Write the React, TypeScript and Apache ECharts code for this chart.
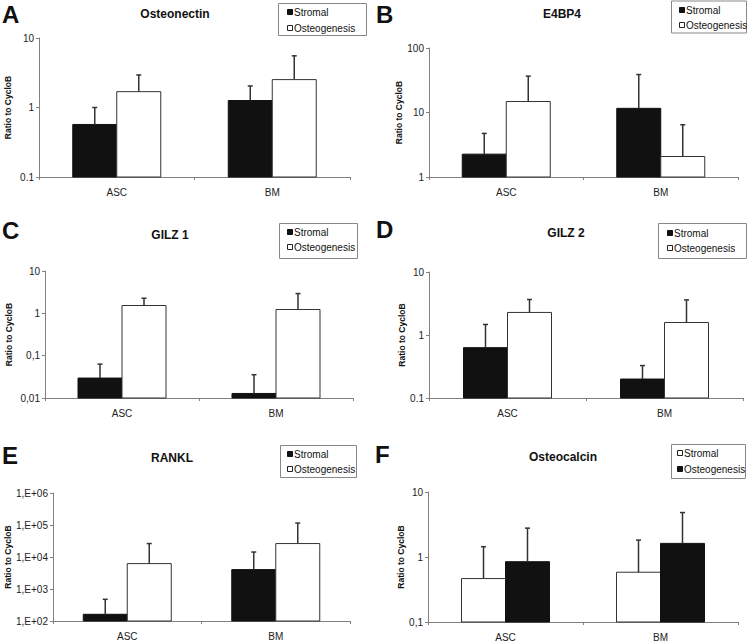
import React, { useEffect, useRef } from 'react';
import * as echarts from 'echarts';

// ---------- data ----------
const categories = ['ASC', 'BM'];

const osteonectinStromal = [0.57, 1.26];
const osteonectinStromalErr = [1.0, 2.04];
const osteonectinOsteo = [1.69, 2.52];
const osteonectinOsteoErr = [2.94, 5.54];

const e4bp4Stromal = [2.26, 11.6];
const e4bp4StromalErr = [4.74, 38.8];
const e4bp4Osteo = [14.8, 2.08];
const e4bp4OsteoErr = [36.6, 6.46];

const gilz1Stromal = [0.0296, 0.0128];
const gilz1StromalErr = [0.063, 0.0355];
const gilz1Osteo = [1.53, 1.23];
const gilz1OsteoErr = [2.28, 2.93];

const gilz2Stromal = [0.63, 0.2];
const gilz2StromalErr = [1.47, 0.327];
const gilz2Osteo = [2.28, 1.58];
const gilz2OsteoErr = [3.66, 3.61];

const ranklStromal = [162, 4040];
const ranklStromalErr = [476, 14300];
const ranklOsteo = [6220, 26300];
const ranklOsteoErr = [26300, 115000];

const osteocalcinStromal = [0.466, 0.583];
const osteocalcinStromalErr = [1.44, 1.82];
const osteocalcinOsteo = [0.847, 1.62];
const osteocalcinOsteoErr = [2.78, 4.83];

const ticksA = ['0.1', '1', '10'];
const ticksB = ['1', '10', '100'];
const ticksC = ['0,01', '0,1', '1', '10'];
const ticksD = ['0.1', '1', '10'];
const ticksE = ['1,E+02', '1,E+03', '1,E+04', '1,E+05', '1,E+06'];
const ticksF = ['0,1', '1', '10'];

const seriesNames = ['Stromal', 'Osteogenesis'];
const yAxisName = 'Ratio to CycloB';

// ---------- layout / style ----------
const FONT = '"Liberation Sans", Arial, sans-serif';
const BAR_W = 44;
const BLACK = '#111111';
const WHITE = '#ffffff';

type Panel = {
  letter: string;
  title: string;
  stromal: number[];
  stromalErr: number[];
  osteo: number[];
  osteoErr: number[];
  ticks: string[];
  minExp: number;
  stromalFill: string;
  osteoFill: string;
  grid: { left: number; top: number; width: number; height: number };
  nameGap: number;
  letterPos: [number, number];
  titlePos: [number, number];
  legendBox: [number, number, number, number];
  legendRows: [number, number];
  legendSq: number;
};

const panels: Panel[] = [
  {
    letter: 'A', title: 'Osteonectin',
    stromal: osteonectinStromal, stromalErr: osteonectinStromalErr,
    osteo: osteonectinOsteo, osteoErr: osteonectinOsteoErr,
    ticks: ticksA, minExp: -1, stromalFill: BLACK, osteoFill: WHITE,
    grid: { left: 39, top: 38, width: 311, height: 139 }, nameGap: 27,
    letterPos: [2, 14], titlePos: [175, 14],
    legendBox: [278, 3, 88, 32], legendRows: [12, 28], legendSq: 287,
  },
  {
    letter: 'B', title: 'E4BP4',
    stromal: e4bp4Stromal, stromalErr: e4bp4StromalErr,
    osteo: e4bp4Osteo, osteoErr: e4bp4OsteoErr,
    ticks: ticksB, minExp: 0, stromalFill: BLACK, osteoFill: WHITE,
    grid: { left: 429, top: 48, width: 309, height: 129 }, nameGap: 26,
    letterPos: [376, 14], titlePos: [562, 14],
    legendBox: [671, 0.5, 75, 32], legendRows: [10, 25], legendSq: 679,
  },
  {
    letter: 'C', title: 'GILZ 1',
    stromal: gilz1Stromal, stromalErr: gilz1StromalErr,
    osteo: gilz1Osteo, osteoErr: gilz1OsteoErr,
    ticks: ticksC, minExp: -2, stromalFill: BLACK, osteoFill: WHITE,
    grid: { left: 45, top: 271, width: 308, height: 127 }, nameGap: 32,
    letterPos: [2, 230], titlePos: [170, 235],
    legendBox: [279, 223, 78, 35], legendRows: [232, 247], legendSq: 287,
  },
  {
    letter: 'D', title: 'GILZ 2',
    stromal: gilz2Stromal, stromalErr: gilz2StromalErr,
    osteo: gilz2Osteo, osteoErr: gilz2OsteoErr,
    ticks: ticksD, minExp: -1, stromalFill: BLACK, osteoFill: WHITE,
    grid: { left: 429, top: 272, width: 314, height: 126 }, nameGap: 22,
    letterPos: [376, 229], titlePos: [566, 233],
    legendBox: [658, 223, 88, 35], legendRows: [233, 248], legendSq: 667,
  },
  {
    letter: 'E', title: 'RANKL',
    stromal: ranklStromal, stromalErr: ranklStromalErr,
    osteo: ranklOsteo, osteoErr: ranklOsteoErr,
    ticks: ticksE, minExp: 2, stromalFill: BLACK, osteoFill: WHITE,
    grid: { left: 53, top: 493, width: 297, height: 128 }, nameGap: 41,
    letterPos: [2, 455], titlePos: [172, 458],
    legendBox: [280, 445, 76, 32], legendRows: [454, 469], legendSq: 287,
  },
  {
    letter: 'F', title: 'Osteocalcin',
    stromal: osteocalcinStromal, stromalErr: osteocalcinStromalErr,
    osteo: osteocalcinOsteo, osteoErr: osteocalcinOsteoErr,
    ticks: ticksF, minExp: -1, stromalFill: WHITE, osteoFill: BLACK,
    grid: { left: 428, top: 492, width: 310, height: 130 }, nameGap: 20,
    letterPos: [375, 454], titlePos: [563, 457],
    legendBox: [671, 444, 74, 34], legendRows: [453, 469], legendSq: 677,
  },
];

function makeRender(side: number, fill: string, min: number) {
  return (params: any, api: any) => {
    const cat = api.value(0);
    const v = api.value(1);
    const e = api.value(2);
    const base = api.coord([cat, min]);
    const top = api.coord([cat, v]);
    const et = api.coord([cat, e]);
    const cx = base[0] + (side * BAR_W) / 2;
    const stroke = fill === WHITE ? '#333333' : BLACK;
    return {
      type: 'group',
      children: [
        {
          type: 'rect',
          shape: { x: cx - BAR_W / 2, y: top[1], width: BAR_W, height: base[1] - top[1] },
          style: { fill, stroke, lineWidth: 1 },
        },
        {
          type: 'line',
          shape: { x1: cx, y1: top[1], x2: cx, y2: et[1] },
          style: { stroke: '#333333', lineWidth: 1.5 },
        },
        {
          type: 'line',
          shape: { x1: cx - 2.5, y1: et[1], x2: cx + 2.5, y2: et[1] },
          style: { stroke: '#333333', lineWidth: 1.5 },
        },
      ],
    };
  };
}

function txt(text: string, x: number, y: number, font: string, align = 'left') {
  return {
    type: 'text',
    x,
    y,
    style: {
      text,
      font,
      fill: '#111111',
      textAlign: align,
      align,
      textVerticalAlign: 'middle',
      verticalAlign: 'middle',
    },
  };
}

function buildOption() {
  const grid: any[] = [];
  const xAxis: any[] = [];
  const yAxis: any[] = [];
  const series: any[] = [];
  const graphic: any[] = [];

  panels.forEach((p, i) => {
    const min = Math.pow(10, p.minExp);
    const max = Math.pow(10, p.minExp + p.ticks.length - 1);
    grid.push({ ...p.grid, containLabel: false });
    xAxis.push({
      type: 'category',
      gridIndex: i,
      data: categories,
      boundaryGap: true,
      axisLine: { lineStyle: { color: '#808080', width: 1 } },
      axisTick: { show: true, length: 3, lineStyle: { color: '#808080' } },
      axisLabel: { margin: 10, fontFamily: FONT, fontSize: 10, color: '#222222' },
      splitLine: { show: false },
    });
    yAxis.push({
      type: 'log',
      logBase: 10,
      gridIndex: i,
      min,
      max,
      name: yAxisName,
      nameLocation: 'middle',
      nameRotate: 90,
      nameGap: p.nameGap,
      nameTextStyle: { fontFamily: FONT, fontSize: 8.5, fontWeight: 'bold', color: '#111111' },
      axisLine: { show: true, lineStyle: { color: '#808080', width: 1 } },
      axisTick: { show: true, length: 3, lineStyle: { color: '#808080' } },
      axisLabel: {
        margin: 5,
        fontFamily: FONT,
        fontSize: 10,
        color: '#222222',
        formatter: (v: number) => p.ticks[Math.round(Math.log10(v)) - p.minExp] ?? '',
      },
      splitLine: { show: false },
      minorTick: { show: false },
    });
    const groups = [
      { name: seriesNames[0], vals: p.stromal, errs: p.stromalErr, fill: p.stromalFill, side: -1 },
      { name: seriesNames[1], vals: p.osteo, errs: p.osteoErr, fill: p.osteoFill, side: 1 },
    ];
    groups.forEach((g) => {
      series.push({
        type: 'custom',
        name: g.name,
        xAxisIndex: i,
        yAxisIndex: i,
        z: 3,
        encode: { x: 0, y: 1 },
        data: categories.map((_, k) => [k, g.vals[k], g.errs[k]]),
        renderItem: makeRender(g.side, g.fill, min),
        clip: false,
      });
    });

    // panel letter + title
    graphic.push(txt(p.letter, p.letterPos[0], p.letterPos[1], `bold 24px ${FONT}`));
    graphic.push(txt(p.title, p.titlePos[0], p.titlePos[1], `bold 12px ${FONT}`, 'center'));

    // legend
    const [lx, ly, lw, lh] = p.legendBox;
    graphic.push({
      type: 'rect',
      shape: { x: lx + 0.5, y: ly + 0.5, width: lw, height: lh },
      style: { fill: '#ffffff', stroke: '#888888', lineWidth: 1 },
    });
    const fills = [p.stromalFill, p.osteoFill];
    seriesNames.forEach((n, k) => {
      const ry = p.legendRows[k];
      graphic.push({
        type: 'rect',
        shape: { x: p.legendSq + 0.5, y: ry - 2.5, width: 5, height: 5 },
        style: { fill: fills[k], stroke: fills[k] === WHITE ? '#222222' : BLACK, lineWidth: 1 },
      });
      graphic.push(txt(n, p.legendSq + 7, ry, `10px ${FONT}`));
    });
  });

  return {
    animation: false,
    backgroundColor: '#ffffff',
    grid,
    xAxis,
    yAxis,
    series,
    graphic,
  };
}

export default function App() {
  const ref = useRef<HTMLDivElement>(null);
  useEffect(() => {
    if (!ref.current) return;
    const chart = echarts.init(ref.current, undefined, { renderer: 'svg' });
    chart.setOption(buildOption() as any);
    return () => chart.dispose();
  }, []);
  return (
    <div
      ref={ref}
      style={{ position: 'absolute', left: 0, top: 0, width: 747, height: 642, background: '#fff' }}
    />
  );
}
